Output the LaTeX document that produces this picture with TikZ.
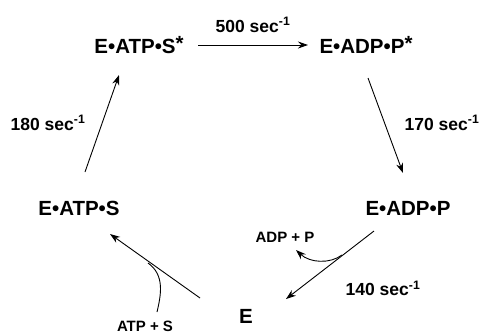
\documentclass[tikz,border=0pt]{standalone}
\usepackage{fontspec}
\setmainfont{Liberation Sans}
\usetikzlibrary{arrows.meta,calc}
\tikzset{
  species/.style={font=\fontsize{20.5}{23}\selectfont\bfseries, inner sep=0pt},
  rate/.style={font=\fontsize{17.5}{20}\selectfont\bfseries, inner sep=0pt},
  small/.style={font=\fontsize{15}{17}\selectfont\bfseries, inner sep=0pt},
  rxn/.style={line width=0.9pt, -{Stealth[length=10pt,width=7pt]}},
}
\newcommand{\persec}{sec\textsuperscript{-1}}
\begin{document}
\begin{tikzpicture}[x=1pt,y=-1pt]
\useasboundingbox (0,0) rectangle (485,333);

% cycle intermediates
\node[species] (s1) at (139,45) {E•ATP•S\raisebox{3pt}{*}};
\node[species] (s2) at (366,45) {E•ADP•P\raisebox{3pt}{*}};
\node[species] (s3) at (408,208) {E•ADP•P};
\node[species] (e)  at (246,316) {E};
\node[species] (s0) at (79,208) {E•ATP•S};

% rate constants
\node[rate] (k1) at (253,25) {500 \persec};
\node[rate] (k2) at (442,123) {170 \persec};
\node[rate] (k3) at (383,288) {140 \persec};
\node[rate] (k4) at (48,123) {180 \persec};

% substrates and products
\node[small] (prod) at (285,237) {ADP + P};
\node[small] (subs) at (145,326) {ATP + S};

% reaction arrows
\draw[rxn] ($(s1)+(59,0)$) -- ($(s2)+(-58,0)$);
\draw[rxn] ($(s2)+(2,33)$) -- ($(s3)+(-5,-35)$);
\draw[rxn] ($(s3)+(-34,23)$) -- ($(e)+(40,-17)$);
\draw[rxn] ($(e)+(-46,-18)$) -- ($(s0)+(31,26)$);
\draw[rxn] ($(s0)+(6,-36)$) -- ($(s1)+(-20,30)$);

% product release and substrate binding branches
\draw[rxn] ($(s3)+(-66,47)$) .. controls (330,264) and (310,263) .. ($(prod)+(11,13)$);
\draw[line width=0.9pt] ($(subs)+(12,-14)$) .. controls (161,295) and (165,275) .. ($(e)+(-98,-53)$);
\end{tikzpicture}
\end{document}
